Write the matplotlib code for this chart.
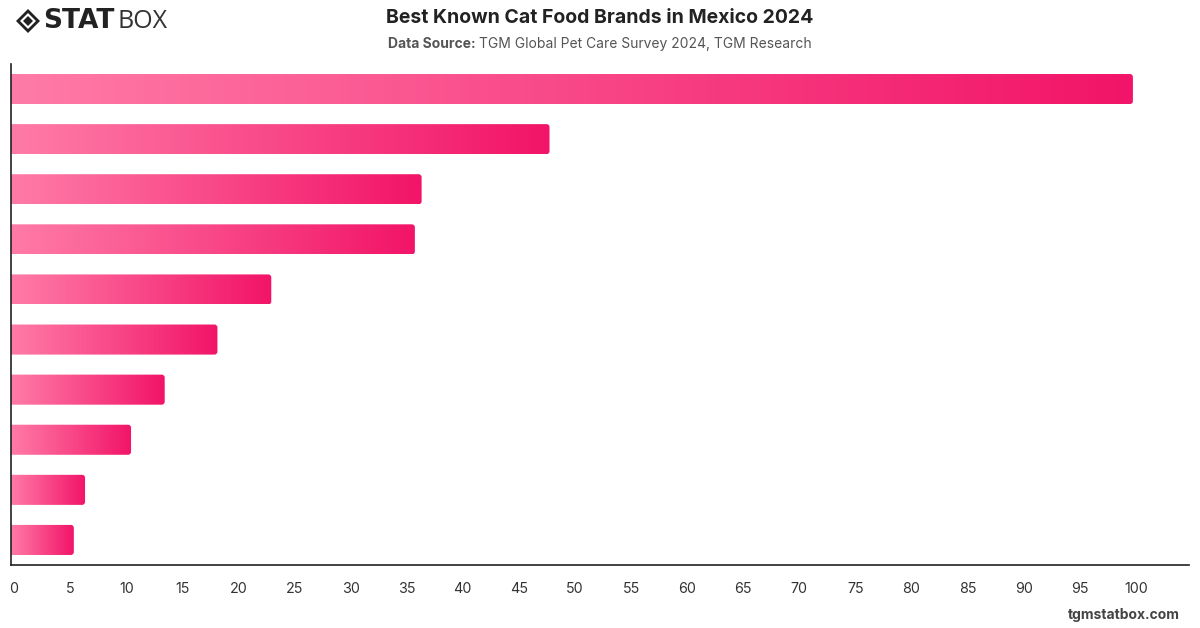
import matplotlib.pyplot as plt
import numpy as np
from matplotlib.colors import LinearSegmentedColormap
from matplotlib.patches import FancyBboxPatch, Polygon
from matplotlib.transforms import ScaledTranslation

plt.rc('font', family='Inter')

# data (brand names are not shown in the picture)
ranks = list(range(1, 11))
values = [100, 48.0, 36.6, 36.0, 23.2, 18.4, 13.7, 10.7, 6.6, 5.6]
ticks = list(range(0, 101, 5))

W, H = 1200, 628
fig = plt.figure(figsize=(W / 100, H / 100), dpi=100)
ax = fig.add_axes([11 / W, (H - 565) / H, (1189 - 11) / W, (565 - 64) / H])

cmap = LinearSegmentedColormap.from_list('pink', ['#ff7ba7', '#f21468'])
grad = np.linspace(0, 1, 256).reshape(1, -1)

xmax = 105
# px per data unit, for round corners
px_x = (1189 - 11) / xmax
px_y = (565 - 64) / len(values)
bh = 0.6
rad = 3.0

for i, v in enumerate(values):
    im = ax.imshow(grad, cmap=cmap, aspect='auto', interpolation='bilinear',
                   extent=[0, v, i + bh / 2, i - bh / 2], zorder=2)
    box = FancyBboxPatch((-2, i - bh / 2), v + 2, bh,
                         boxstyle='round,pad=0,rounding_size=%f' % (rad / px_x),
                         mutation_aspect=px_x / px_y,
                         transform=ax.transData, facecolor='none', edgecolor='none')
    ax.add_patch(box)
    im.set_clip_path(box)

ax.set_xlim(0, xmax)
ax.set_ylim(len(values) - 0.5, -0.5)

for s in ['top', 'right']:
    ax.spines[s].set_visible(False)
for s in ['left', 'bottom']:
    ax.spines[s].set_color('#222222')
    ax.spines[s].set_linewidth(1.2)
ax.set_yticks([])
ax.set_xticks(ticks)
ax.set_xticklabels([str(t) for t in ticks], fontsize=10.3, color='#333333')
ax.tick_params(axis='x', length=0, pad=12)
shift = ScaledTranslation(3 / 100, 0, fig.dpi_scale_trans)
for lab in ax.get_xticklabels():
    lab.set_transform(lab.get_transform() + shift)
ax.set_facecolor('white')

fig.text(0.5, 1 - 18 / H, 'Best Known Cat Food Brands in Mexico 2024', ha='center', va='center',
         fontsize=14, fontweight='bold', color='#222222')
t1 = fig.text(600 / W, 1 - 44 / H, 'Data Source: ', ha='left', va='center',
              fontsize=10, fontweight='bold', color='#555555')
t2 = fig.text(600 / W, 1 - 44 / H, 'TGM Global Pet Care Survey 2024, TGM Research', ha='left', va='center',
              fontsize=10, color='#555555')
fig.canvas.draw()
# centre the two-part subtitle as one line
bb1 = t1.get_window_extent()
bb2 = t2.get_window_extent()
start = 600 - (bb1.width + bb2.width) / 2
t1.set_x(start / W)
t2.set_x((start + bb1.width) / W)

fig.text(1180 / W, 1 - 615 / H, 'tgmstatbox.com', ha='right', va='center',
         fontsize=10, fontweight='bold', color='#444444')

# logo
cx, cy = 28 / W, 1 - 21 / H
def diamond(r, col):
    return Polygon([(cx - r / W, cy), (cx, cy + r / H), (cx + r / W, cy), (cx, cy - r / H)],
                   closed=True, transform=fig.transFigure, facecolor=col, edgecolor='none')
for r, col in ((12, '#222222'), (8, 'white'), (5, '#222222')):
    fig.patches.append(diamond(r, col))
fig.text(43 / W, 1 - 21 / H, 'STAT', ha='left', va='center', fontsize=19,
         fontweight='heavy', family='DejaVu Sans', color='#222222')
fig.text(117 / W, 1 - 21 / H, 'BOX', ha='left', va='center', fontsize=18,
         fontweight='normal', family='Open Sans', color='#333333')

fig.savefig('out.png', dpi=100, facecolor='white')
